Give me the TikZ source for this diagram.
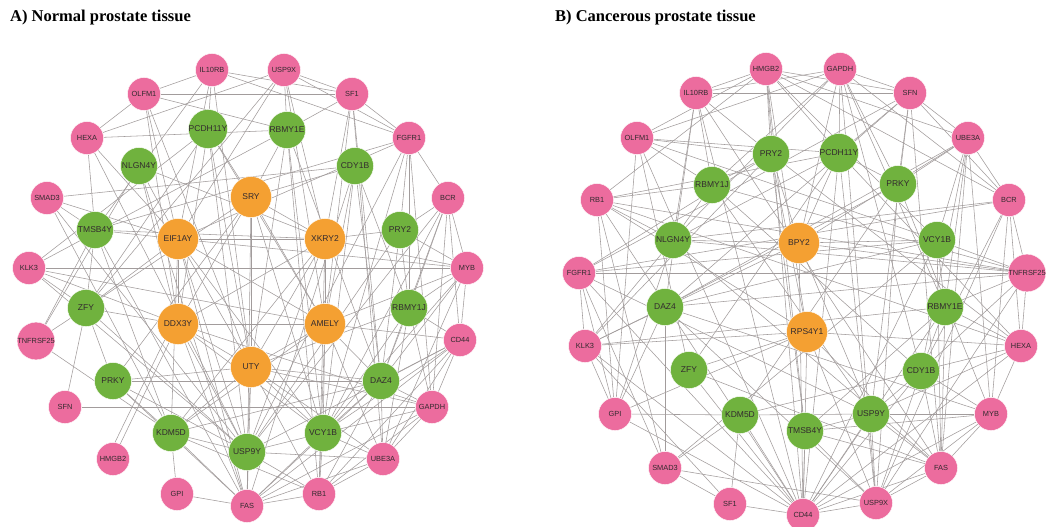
\documentclass[tikz,border=0pt]{standalone}
\usepackage{fontspec}
\setmainfont{Liberation Serif}
\newfontfamily\labfont{Liberation Sans}
\usetikzlibrary{backgrounds}
\definecolor{pinkc}{RGB}{236,108,158}
\definecolor{greenc}{RGB}{112,178,62}
\definecolor{orangec}{RGB}{244,160,50}
\definecolor{edgec}{RGB}{162,156,156}
\definecolor{labc}{RGB}{50,42,46}
\tikzset{
  gene/.style={circle,inner sep=0pt,draw=white,line width=0.4pt,text=labc,font=\labfont},
  pk/.style={gene,fill=pinkc,minimum size=33pt,font=\labfont\fontsize{7.4}{8}\selectfont},
  gr/.style={gene,fill=greenc,minimum size=37pt,font=\labfont\fontsize{8.5}{9}\selectfont},
  og/.style={gene,fill=orangec,minimum size=41pt,font=\labfont\fontsize{8.5}{9}\selectfont},
  lnk/.style={draw=edgec,line width=0.55pt},
  ttl/.style={anchor=west,font=\bfseries\fontsize{16.5}{18}\selectfont,inner sep=0pt}
}
\begin{document}
\begin{tikzpicture}[x=1pt,y=-1pt]
\useasboundingbox (0,0) rectangle (1050,527);
\node[ttl] (ta) at (10,18) {A) Normal prostate tissue};
\node[ttl] (tb) at (555,18) {B) Cancerous prostate tissue};
% ---------- Panel A nodes
\node[pk] (a-il10rb) at (212,70) {IL10RB};
\node[pk] (a-usp9x) at (284,70) {USP9X};
\node[pk] (a-olfm1) at (144,94) {OLFM1};
\node[pk] (a-sf1) at (352,94) {SF1};
\node[pk] (a-hexa) at (87,138) {HEXA};
\node[gr] (a-pcdh) at (208,129) {PCDH11Y};
\node[gr] (a-rbmy1e) at (287,130) {RBMY1E};
\node[pk] (a-fgfr1) at (409,138) {FGFR1};
\node[gr] (a-nlgn) at (139,166) {NLGN4Y};
\node[gr] (a-cdy1b) at (355,166) {CDY1B};
\node[og] (a-sry) at (251,197) {SRY};
\node[pk] (a-smad3) at (47,198) {SMAD3};
\node[pk] (a-bcr) at (448,198) {BCR};
\node[gr] (a-tmsb) at (95,230) {TMSB4Y};
\node[og] (a-eif) at (178,239) {EIF1AY};
\node[og] (a-xkry) at (325,239) {XKRY2};
\node[gr] (a-pry2) at (400,230) {PRY2};
\node[pk] (a-klk3) at (29,268) {KLK3};
\node[pk] (a-myb) at (467,268) {MYB};
\node[gr] (a-zfy) at (86,308) {ZFY};
\node[og] (a-ddx) at (178,324) {DDX3Y};
\node[og] (a-amely) at (325,324) {AMELY};
\node[gr] (a-rbmy1j) at (409,308) {RBMY1J};
\node[pk] (a-tnf) at (36,341) {TNFRSF25};
\node[pk] (a-cd44) at (460,340) {CD44};
\node[og] (a-uty) at (251,367) {UTY};
\node[gr] (a-prky) at (113,381) {PRKY};
\node[gr] (a-daz4) at (381,381) {DAZ4};
\node[pk] (a-sfn) at (65,407) {SFN};
\node[pk] (a-gapdh) at (432,407) {GAPDH};
\node[gr] (a-kdm) at (171,433) {KDM5D};
\node[gr] (a-vcy) at (323,433) {VCY1B};
\node[gr] (a-usp9y) at (247,452) {USP9Y};
\node[pk] (a-ube3a) at (383,459) {UBE3A};
\node[pk] (a-hmgb2) at (113,459) {HMGB2};
\node[pk] (a-gpi) at (177,494) {GPI};
\node[pk] (a-rb1) at (319,494) {RB1};
\node[pk] (a-fas) at (247,506) {FAS};
% ---------- Panel B nodes
\node[pk] (b-hmgb2) at (766,69) {HMGB2};
\node[pk] (b-gapdh) at (840,69) {GAPDH};
\node[pk] (b-il10rb) at (696,93) {IL10RB};
\node[pk] (b-sfn) at (910,93) {SFN};
\node[pk] (b-olfm1) at (637,138) {OLFM1};
\node[pk] (b-ube3a) at (968,138) {UBE3A};
\node[gr] (b-pry2) at (771,154) {PRY2};
\node[gr] (b-pcdh) at (839,153) {PCDH11Y};
\node[gr] (b-rbmy1j) at (712,185) {RBMY1J};
\node[gr] (b-prky) at (898,184) {PRKY};
\node[pk] (b-rb1) at (597,200) {RB1};
\node[pk] (b-bcr) at (1009,200) {BCR};
\node[gr] (b-nlgn) at (673,240) {NLGN4Y};
\node[og] (b-bpy2) at (799,243) {BPY2};
\node[gr] (b-vcy) at (937,240) {VCY1B};
\node[pk] (b-fgfr1) at (579,273) {FGFR1};
\node[pk] (b-tnf) at (1027,273) {TNFRSF25};
\node[gr] (b-daz4) at (665,307) {DAZ4};
\node[og] (b-rps4y1) at (807,332) {RPS4Y1};
\node[gr] (b-rbmy1e) at (945,307) {RBMY1E};
\node[pk] (b-klk3) at (585,346) {KLK3};
\node[pk] (b-hexa) at (1021,346) {HEXA};
\node[gr] (b-zfy) at (689,370) {ZFY};
\node[gr] (b-cdy1b) at (921,371) {CDY1B};
\node[pk] (b-gpi) at (615,414) {GPI};
\node[gr] (b-kdm) at (740,415) {KDM5D};
\node[gr] (b-usp9y) at (871,414) {USP9Y};
\node[pk] (b-myb) at (991,414) {MYB};
\node[gr] (b-tmsb) at (805,431) {TMSB4Y};
\node[pk] (b-smad3) at (665,468) {SMAD3};
\node[pk] (b-fas) at (941,468) {FAS};
\node[pk] (b-sf1) at (730,504) {SF1};
\node[pk] (b-usp9x) at (876,503) {USP9X};
\node[pk] (b-cd44) at (803,515) {CD44};
% ---------- edges
\begin{scope}[on background layer]
\fill[white] (0,0) rectangle (1050,527);
\foreach \u/\v in {il10rb/olfm1, il10rb/sf1, il10rb/pcdh, il10rb/fgfr1, il10rb/eif, il10rb/uty, il10rb/tmsb,
 usp9x/sf1, usp9x/rbmy1e, usp9x/fgfr1, usp9x/xkry, usp9x/amely, usp9x/zfy, usp9x/eif, usp9x/hexa,
 olfm1/hexa, olfm1/sf1, olfm1/eif, olfm1/ddx, olfm1/uty, olfm1/rbmy1e,
 sf1/rbmy1e, sf1/fgfr1, sf1/xkry, sf1/daz4, sf1/amely, sf1/ube3a,
 hexa/tmsb, hexa/eif, hexa/usp9y, hexa/rbmy1e,
 pcdh/sry, pcdh/ddx, pcdh/uty, pcdh/zfy, pcdh/klk3, pcdh/usp9y, pcdh/amely,
 rbmy1e/sry, rbmy1e/uty, rbmy1e/daz4, rbmy1e/rb1, rbmy1e/klk3, rbmy1e/vcy,
 fgfr1/bcr, fgfr1/pry2, fgfr1/eif, fgfr1/tmsb, fgfr1/vcy, fgfr1/usp9y, fgfr1/gapdh, fgfr1/rbmy1j,
 nlgn/eif, nlgn/ddx, nlgn/fas, nlgn/xkry,
 cdy1b/sry, cdy1b/amely, cdy1b/vcy, cdy1b/daz4, cdy1b/rbmy1j, cdy1b/fas,
 sry/uty, sry/ddx, sry/xkry, sry/amely, sry/zfy, sry/fas, sry/prky, sry/vcy,
 smad3/tmsb, smad3/eif, smad3/cdy1b, smad3/kdm, smad3/usp9y,
 bcr/pry2, bcr/myb, bcr/cd44, bcr/daz4, bcr/vcy, bcr/usp9y, bcr/rbmy1j, bcr/gapdh,
 tmsb/eif, tmsb/zfy, tmsb/kdm, tmsb/fas, tmsb/xkry,
 eif/ddx, eif/uty, eif/xkry, eif/amely, eif/vcy, eif/usp9y, eif/fas, eif/myb, eif/zfy, eif/kdm,
 xkry/amely, xkry/uty, xkry/ddx, xkry/pry2, xkry/usp9y, xkry/kdm, xkry/rb1, xkry/myb,
 pry2/rbmy1j, pry2/myb, pry2/daz4, pry2/usp9y,
 klk3/zfy, klk3/ddx, klk3/amely, klk3/myb, klk3/usp9y,
 myb/cd44, myb/rbmy1j, myb/amely, myb/daz4, myb/vcy, myb/ube3a,
 zfy/tnf, zfy/sfn, zfy/usp9y, zfy/ddx, zfy/prky,
 ddx/uty, ddx/amely, ddx/hmgb2, ddx/usp9y, ddx/fas, ddx/gapdh, ddx/vcy,
 amely/uty, amely/daz4, amely/vcy, amely/rb1, amely/cd44, amely/ube3a, amely/kdm,
 rbmy1j/cd44, rbmy1j/gapdh, rbmy1j/daz4, rbmy1j/vcy, rbmy1j/ube3a, rbmy1j/uty,
 tnf/kdm, tnf/tmsb, tnf/nlgn, cd44/gapdh, cd44/daz4, cd44/ube3a, cd44/rb1, cd44/vcy, cd44/fas, cd44/usp9y,
 uty/prky, uty/daz4, uty/usp9y, uty/vcy, uty/kdm, uty/fas, uty/rb1, uty/ube3a, uty/gapdh,
 prky/daz4, prky/kdm, prky/fas, prky/usp9y,
 daz4/vcy, daz4/ube3a, daz4/rb1, daz4/fas, daz4/kdm, daz4/gapdh,
 sfn/gapdh, gapdh/ube3a, gapdh/rb1, gapdh/fas, gapdh/vcy,
 kdm/fas, kdm/gpi, kdm/usp9y, kdm/rb1,
 vcy/rb1, vcy/ube3a, vcy/usp9y, vcy/fas,
 usp9y/fas, usp9y/rb1, usp9y/ube3a, ube3a/rb1, ube3a/fas,
 gpi/fas, rb1/fas}
  {\draw[lnk] (a-\u) -- (a-\v);}
\draw[lnk] ([xshift=2pt]a-hmgb2.north) -- ([xshift=2pt]a-ddx.south west);
\foreach \u/\v in {hmgb2/il10rb, hmgb2/sfn, hmgb2/pry2, hmgb2/pcdh, hmgb2/bcr, hmgb2/ube3a, hmgb2/olfm1, hmgb2/vcy, hmgb2/rb1, hmgb2/tmsb, hmgb2/cd44, hmgb2/rps4y1,
 gapdh/sfn, gapdh/il10rb, gapdh/olfm1, gapdh/pcdh, gapdh/prky, gapdh/rbmy1j, gapdh/nlgn, gapdh/cdy1b, gapdh/usp9x, gapdh/rbmy1e, gapdh/bcr, gapdh/bpy2,
 il10rb/sfn, il10rb/rbmy1j, il10rb/pry2, il10rb/nlgn, il10rb/fas, il10rb/daz4, il10rb/cd44,
 sfn/ube3a, sfn/prky, sfn/pcdh, sfn/bcr, sfn/daz4, sfn/fgfr1, sfn/usp9y, sfn/fas,
 olfm1/pry2, olfm1/rbmy1j, olfm1/gpi, olfm1/zfy, olfm1/cd44, olfm1/pcdh, olfm1/vcy,
 ube3a/bcr, ube3a/prky, ube3a/vcy, ube3a/bpy2, ube3a/daz4, ube3a/cdy1b, ube3a/fas, ube3a/rbmy1e, ube3a/myb,
 pry2/rbmy1j, pry2/bpy2, pry2/fgfr1, pry2/tmsb, pry2/klk3, pry2/hexa, pry2/rps4y1,
 pcdh/nlgn, pcdh/prky, pcdh/rb1, pcdh/bpy2, pcdh/zfy, pcdh/cd44, pcdh/usp9x, pcdh/hexa,
 rbmy1j/rb1, rbmy1j/nlgn, rbmy1j/cdy1b, rbmy1j/usp9y, rbmy1j/tnf,
 prky/daz4, prky/kdm, prky/usp9x, prky/myb,
 rb1/tnf, rb1/nlgn, rb1/hexa, rb1/smad3, rb1/cd44, rb1/rps4y1, rb1/gpi,
 bcr/fgfr1, bcr/tnf, bcr/hexa, bcr/myb, bcr/nlgn, bcr/usp9x, bcr/cdy1b,
 nlgn/bpy2, nlgn/klk3, nlgn/gpi, nlgn/tnf, nlgn/fas,
 bpy2/vcy, bpy2/klk3, bpy2/cd44, bpy2/usp9y, bpy2/tnf,
 vcy/tnf, vcy/fgfr1, vcy/rbmy1e, vcy/cd44, vcy/fas, vcy/daz4, vcy/smad3,
 fgfr1/tnf, fgfr1/klk3, fgfr1/gpi, fgfr1/smad3, fgfr1/cd44, fgfr1/usp9y,
 tnf/hexa, tnf/rbmy1e, tnf/daz4, tnf/usp9x, tnf/cdy1b,
 daz4/klk3, daz4/smad3, daz4/usp9x, daz4/myb, daz4/gpi,
 rps4y1/klk3, rps4y1/zfy, rps4y1/cd44, rps4y1/usp9x, rps4y1/hexa, rps4y1/fas, rps4y1/gpi,
 rbmy1e/cdy1b, rbmy1e/hexa, rbmy1e/fas, rbmy1e/cd44, rbmy1e/tmsb, rbmy1e/klk3,
 klk3/cd44, klk3/sf1, klk3/gpi,
 hexa/usp9y, hexa/cd44, hexa/myb, hexa/kdm,
 zfy/cd44, zfy/fas,
 cdy1b/usp9y, cdy1b/cd44, cdy1b/fas, cdy1b/usp9x, cdy1b/myb,
 gpi/kdm, gpi/cd44, kdm/usp9y, kdm/sf1, kdm/smad3, kdm/cd44,
 usp9y/myb, usp9y/cd44, usp9y/usp9x, usp9y/tmsb, usp9y/fas,
 myb/cd44, myb/fas, myb/usp9x, myb/tmsb,
 tmsb/cd44, tmsb/usp9x, tmsb/fas,
 smad3/sf1, smad3/usp9x, fas/cd44, fas/usp9x, sf1/cd44, usp9x/cd44}
  {\draw[lnk] (b-\u) -- (b-\v);}
\end{scope}
\end{tikzpicture}
\end{document}
